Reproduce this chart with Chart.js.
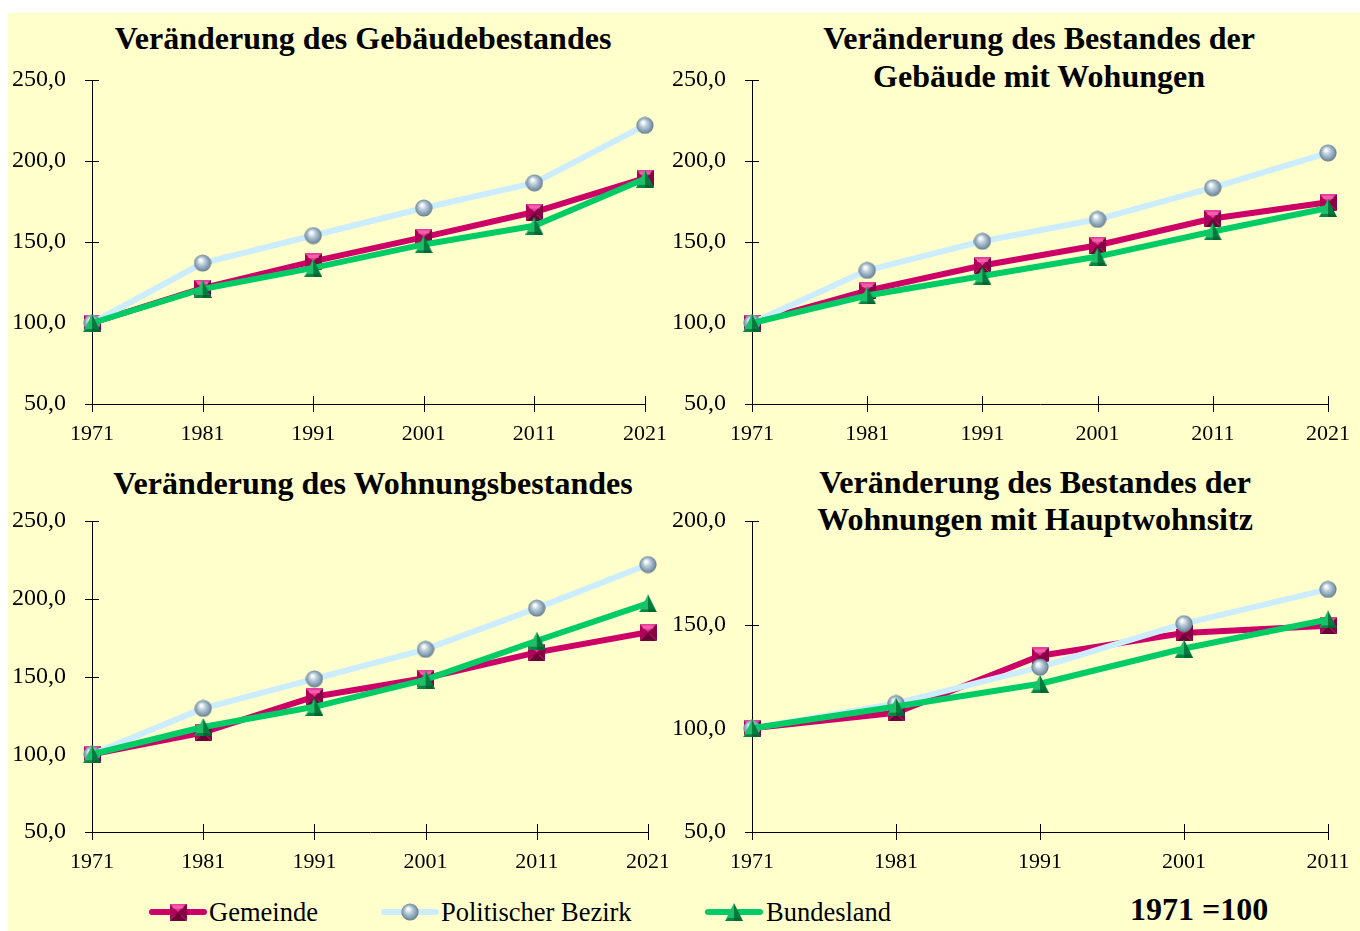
<!DOCTYPE html>
<html>
<head>
<meta charset="utf-8">
<script src="https://cdn.jsdelivr.net/npm/chart.js@4.4.1/dist/chart.umd.min.js"></script>
<style>
  html, body { margin: 0; padding: 0; background: #ffffff; width: 1360px; height: 931px; overflow: hidden; }
  #panel { position: absolute; left: 8px; top: 13px; width: 1352px; height: 918px; background: #FFFFCC; }
  canvas.chart { position: absolute; }
  .title { position: absolute; width: 800px; text-align: center; font-family: "Liberation Serif", "Times New Roman", serif; font-weight: bold; font-size: 32px; line-height: 38px; color: #000; white-space: nowrap; }
  .legtext { position: absolute; font-family: "Liberation Serif", "Times New Roman", serif; font-size: 26.5px; line-height: 30px; color: #000; white-space: nowrap; }
  .legicon { position: absolute; }
  #basis { position: absolute; font-family: "Liberation Serif", "Times New Roman", serif; font-weight: bold; font-size: 32px; line-height: 36px; color: #000; white-space: nowrap; }
</style>
</head>
<body>
<div id="panel"></div>

<div class="title" style="left:-37px; top:19px;">Veränderung des Gebäudebestandes</div>
<div class="title" style="left:639px; top:19px;">Veränderung des Bestandes der<br>Gebäude mit Wohungen</div>
<div class="title" style="left:-27px; top:464px;">Veränderung des Wohnungsbestandes</div>
<div class="title" style="left:635px; top:464px; line-height:37px;">Veränderung des Bestandes der<br>Wohnungen mit Hauptwohnsitz</div>

<canvas id="c1" class="chart" width="668" height="400" style="left:0px; top:60px;"></canvas>
<canvas id="c2" class="chart" width="700" height="400" style="left:660px; top:60px;"></canvas>
<canvas id="c3" class="chart" width="668" height="388" style="left:0px; top:500px;"></canvas>
<canvas id="c4" class="chart" width="700" height="388" style="left:660px; top:500px;"></canvas>

<canvas id="l1" class="legicon" width="60" height="24" style="left:148px; top:900px;"></canvas>
<div class="legtext" style="left:209px; top:897px;">Gemeinde</div>
<canvas id="l2" class="legicon" width="60" height="24" style="left:380px; top:900px;"></canvas>
<div class="legtext" style="left:441px; top:897px;">Politischer Bezirk</div>
<canvas id="l3" class="legicon" width="60" height="24" style="left:704px; top:900px;"></canvas>
<div class="legtext" style="left:766px; top:897px;">Bundesland</div>
<div id="basis" style="left:1130px; top:891px;">1971 =100</div>

<script>
// ---------- DATA ----------
const seriesNames = ['Gemeinde', 'Politischer Bezirk', 'Bundesland'];

const years6 = ['1971', '1981', '1991', '2001', '2011', '2021'];
const years5 = ['1971', '1981', '1991', '2001', '2011'];

const yTicks250 = [50, 100, 150, 200, 250];
const yTicks200 = [50, 100, 150, 200];

// Veränderung des Gebäudebestandes
const gebGemeinde = [100, 121.5, 138, 153, 168.5, 189.5];
const gebBezirk   = [100, 137, 154, 171, 186.5, 222];
const gebLand     = [100, 121, 134, 148.5, 160, 189];

// Veränderung des Bestandes der Gebäude mit Wohungen
const gwGemeinde = [100, 120, 135.5, 148, 164.5, 174.5];
const gwBezirk   = [100, 132.5, 150.5, 164, 183.5, 205];
const gwLand     = [100, 117, 129, 141, 156.5, 171];

// Veränderung des Wohnungsbestandes
const wohGemeinde = [100, 114, 137, 149, 165.5, 178.5];
const wohBezirk   = [100, 129.5, 148.5, 167.5, 194, 222];
const wohLand     = [100, 117.5, 130.5, 148, 173, 197];

// Veränderung des Bestandes der Wohnungen mit Hauptwohnsitz
const hwsGemeinde = [100, 107.5, 135, 146, 149.5];
const hwsBezirk   = [100, 112, 129.5, 150.5, 167];
const hwsLand     = [100, 110.5, 121.5, 138.5, 152.5];

// ---------- STYLE ----------
const colGemeinde = '#CC0066';
const colBezirk = '#CCECFF';
const colLand = '#00CC66';
const FONT = '"Liberation Serif", "Times New Roman", serif';

// Marker images (3D look)
function makeSquare() {
  const c = document.createElement('canvas'); c.width = 17; c.height = 17;
  const g = c.getContext('2d');
  const s = 17, m = s / 2;
  const faces = [
    ['#E8409A', [[0,0],[s,0],[m,m]]],
    ['#B0005A', [[0,0],[0,s],[m,m]]],
    ['#8A0045', [[s,0],[s,s],[m,m]]],
    ['#6E0038', [[0,s],[s,s],[m,m]]]
  ];
  faces.forEach(([col, pts]) => {
    g.fillStyle = col; g.beginPath(); g.moveTo(pts[0][0], pts[0][1]);
    g.lineTo(pts[1][0], pts[1][1]); g.lineTo(pts[2][0], pts[2][1]); g.closePath(); g.fill();
  });
  g.fillStyle = 'rgba(255,120,190,0.55)'; g.fillRect(3, 2, 11, 3);
  return c;
}
function makeSphere() {
  const c = document.createElement('canvas'); c.width = 18; c.height = 18;
  const g = c.getContext('2d');
  const grd = g.createRadialGradient(7, 6, 1, 9, 9, 9);
  grd.addColorStop(0, '#FFFFFF');
  grd.addColorStop(0.35, '#B8CCDA');
  grd.addColorStop(0.8, '#7D95A8');
  grd.addColorStop(1, '#5A6E7E');
  g.fillStyle = grd; g.beginPath(); g.arc(9, 9, 8.6, 0, Math.PI * 2); g.fill();
  return c;
}
function makeTriangle() {
  const c = document.createElement('canvas'); c.width = 18; c.height = 18;
  const g = c.getContext('2d');
  g.fillStyle = '#1FBF6A';
  g.beginPath(); g.moveTo(9, 0); g.lineTo(0, 18); g.lineTo(9, 18); g.closePath(); g.fill();
  g.fillStyle = '#007A3D';
  g.beginPath(); g.moveTo(9, 0); g.lineTo(18, 18); g.lineTo(9, 18); g.closePath(); g.fill();
  g.fillStyle = 'rgba(0,90,45,0.6)';
  g.beginPath(); g.moveTo(0, 18); g.lineTo(18, 18); g.lineTo(15, 15); g.lineTo(3, 15); g.closePath(); g.fill();
  return c;
}
const imgSquare = makeSquare();
const imgSphere = makeSphere();
const imgTriangle = makeTriangle();

Chart.defaults.font.family = FONT;
Chart.defaults.color = '#000';

const crossTicks = {
  id: 'crossTicks',
  beforeDatasetsDraw(chart) {
    const { ctx, chartArea, scales } = chart;
    const xs = scales.x, ys = scales.y;
    ctx.save();
    ctx.strokeStyle = '#000';
    ctx.lineWidth = 1;
    ctx.beginPath();
    ys.ticks.forEach((t, i) => {
      const py = Math.round(ys.getPixelForTick(i)) + 0.5;
      ctx.moveTo(chartArea.left - 7, py); ctx.lineTo(chartArea.left + 7, py);
    });
    xs.ticks.forEach((t, i) => {
      const px = Math.round(xs.getPixelForTick(i)) + 0.5;
      ctx.moveTo(px, chartArea.bottom - 8); ctx.lineTo(px, chartArea.bottom + 8);
    });
    ctx.stroke();
    ctx.restore();
  }
};

function ds(label, data, color, img, order) {
  return {
    label, data,
    borderColor: color, backgroundColor: color,
    borderWidth: 6, tension: 0,
    borderJoinStyle: 'round', borderCapStyle: 'round',
    pointStyle: img, pointRadius: 9, pointHoverRadius: 9,
    clip: false, order
  };
}

function makeChart(id, labels, gem, bez, land, yTicks, yMax, pad) {
  new Chart(document.getElementById(id), {
    type: 'line',
    data: {
      labels,
      datasets: [
        ds(seriesNames[2], land, colLand, imgTriangle, 0),
        ds(seriesNames[1], bez, colBezirk, imgSphere, 1),
        ds(seriesNames[0], gem, colGemeinde, imgSquare, 2)
      ]
    },
    options: {
      responsive: false,
      animation: false,
      events: [],
      layout: { padding: pad },
      plugins: { legend: { display: false }, tooltip: { enabled: false }, title: { display: false } },
      scales: {
        x: {
          offset: false,
          grid: { display: false, drawTicks: false },
          border: { display: true, color: '#000', width: 1 },
          ticks: { font: { size: 22, family: FONT }, color: '#000', padding: 17, maxRotation: 0, autoSkip: false },
          afterFit(s) { s.height = 56; s.paddingLeft = 0; s.paddingRight = 0; }
        },
        y: {
          min: 50, max: yMax,
          grid: { display: false, drawTicks: false },
          border: { display: true, color: '#000', width: 1 },
          ticks: {
            font: { size: 24, family: FONT }, color: '#000', padding: 26,
            callback: v => v.toFixed(1).replace('.', ',')
          },
          afterBuildTicks(s) { s.ticks = yTicks.map(v => ({ value: v })); },
          afterFit(s) { s.width = 92; s.paddingTop = 0; s.paddingBottom = 0; }
        }
      }
    },
    plugins: [crossTicks]
  });
}

makeChart('c1', years6, gebGemeinde, gebBezirk, gebLand, yTicks250, 250, { left: 0, top: 20, right: 23, bottom: 0 });
makeChart('c2', years6, gwGemeinde, gwBezirk, gwLand, yTicks250, 250, { left: 0, top: 20, right: 32, bottom: 0 });
makeChart('c3', years6, wohGemeinde, wohBezirk, wohLand, yTicks250, 250, { left: 0, top: 21, right: 20, bottom: 0 });
makeChart('c4', years5, hwsGemeinde, hwsBezirk, hwsLand, yTicks200, 200, { left: 0, top: 21, right: 32, bottom: 0 });

// Legend icons
function legendIcon(id, color, img) {
  const c = document.getElementById(id), g = c.getContext('2d');
  g.strokeStyle = color; g.lineWidth = 6; g.lineCap = 'round';
  g.beginPath(); g.moveTo(4, 12); g.lineTo(56, 12); g.stroke();
  g.drawImage(img, 30 - img.width / 2, 12 - img.height / 2);
}
legendIcon('l1', colGemeinde, imgSquare);
legendIcon('l2', colBezirk, imgSphere);
legendIcon('l3', colLand, imgTriangle);
</script>
</body>
</html>
